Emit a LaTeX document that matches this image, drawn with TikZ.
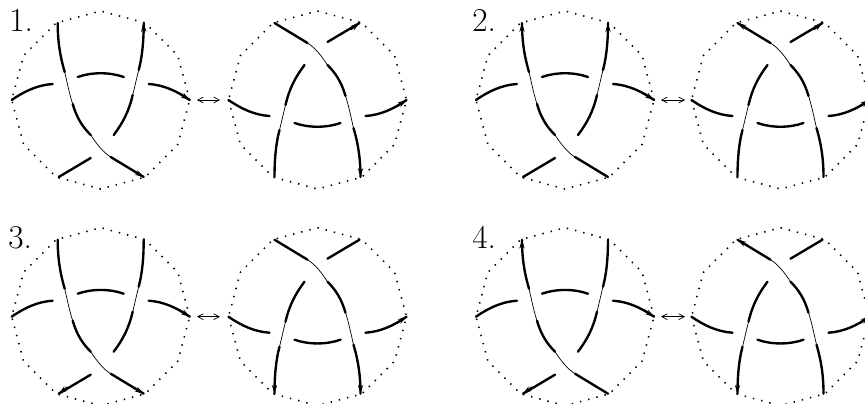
\documentclass[tikz,border=0pt]{standalone}
\usepackage{amsmath,amssymb}
\usepackage{xcolor}
\usetikzlibrary{arrows.meta}

\tikzset{
    thickstrand/.style={line width=1.35pt,line cap=round},
    thinstrand/.style={line width=0.4pt},
    rimdots/.style={line width=0.9pt,dash pattern=on 0.8pt off 4pt},
    swaparrow/.style={<->,>={Straight Barb[length=3.2pt,width=3.4pt]},line width=0.4pt},
    tipend/.style={-{Stealth[length=5pt,width=3pt]},line width=1.1pt},
    numlabel/.style={font=\fontsize{19}{19}\selectfont,anchor=base west,inner sep=0pt}
}

% one disc: centre #1, turned by #2, list of end arrows #3
\newcommand{\knotdisc}[3]{
  \begin{scope}[shift={#1},rotate=#2]
    % rand (12 hoeken)
    \draw[rimdots] (0:89) \foreach \a in {30,60,...,330}{ -- (\a:89)} -- cycle;
    % lange streng over de kruising
    \draw[thickstrand] (-43,77) .. controls (-43,60) and (-41,45) .. (-36,28);
    \draw[thinstrand] (-36,28) .. controls (-33,15) and (-31,5) .. (-28,-4);
    \draw[thickstrand] (-28,-4) .. controls (-24,-18) and (-18,-27) .. (-10,-35);
    \draw[thinstrand] (-10,-35) .. controls (-4,-44) and (2,-52) .. (10,-57);
    \draw[thickstrand] (10,-57) -- (43,-77);
    % tweede streng, onderbroken
    \draw[thickstrand] (43,77) .. controls (43,62) and (42,45) .. (38,30);
    \draw[thinstrand] (38,30) .. controls (36,22) and (34,13) .. (32,5);
    \draw[thickstrand] (32,5) .. controls (28,-12) and (22,-23) .. (13,-35);
    \draw[thickstrand] (-10,-58) -- (-42,-77);
    % bogen
    \draw[thickstrand] (-89,0) .. controls (-76,9) and (-63,15) .. (-48,16);
    \draw[thickstrand] (-23,23) .. controls (-9,28) and (9,28) .. (23,23);
    \draw[thickstrand] (48,16) .. controls (63,15) and (76,9) .. (89,0);
    \foreach \e in {#3}{\csname tip\e\endcsname}
  \end{scope}
}
\newcommand{\tipul}{\draw[tipend] (-43,67) -- (-43,77);}
\newcommand{\tipur}{\draw[tipend] (43,67) -- (43,77);}
\newcommand{\tipr}{\draw[tipend] (79,6.5) -- (89,0);}
\newcommand{\tipl}{\draw[tipend] (-79,6.5) -- (-89,0);}
\newcommand{\tipll}{\draw[tipend] (-33,-70.5) -- (-42,-77);}
\newcommand{\tiplr}{\draw[tipend] (33,-71) -- (43,-77);}

\begin{document}
\begin{tikzpicture}[x=0.02cm,y=0.02cm]
    \useasboundingbox (0,0) rectangle (865,403);
    \clip (0,0) rectangle (865,403);
    % rij 1
    \knotdisc{(100.7,303)}{0}{ur,r,lr}
    \knotdisc{(317.5,303)}{180}{ll,l,ul}
    \knotdisc{(565,303)}{0}{ul,ur,r}
    \knotdisc{(780.5,303)}{180}{lr,ll,l}
    % rij 2
    \knotdisc{(100.7,86.3)}{0}{ll,lr,r}
    \knotdisc{(317.5,86.3)}{180}{ur,ul,l}
    \knotdisc{(565,86.3)}{0}{ul,ll,r}
    \knotdisc{(780.5,86.3)}{180}{lr,ur,l}
    % pijlen tussen de schijven
    \coordinate (ar1a) at (197,303); \coordinate (ar1b) at (220,303);
    \coordinate (ar2a) at (661,303); \coordinate (ar2b) at (685,303);
    \coordinate (ar3a) at (197,86.3); \coordinate (ar3b) at (220,86.3);
    \coordinate (ar4a) at (661,86.3); \coordinate (ar4b) at (685,86.3);
    \foreach \n in {1,2,3,4}{
      \draw[swaparrow] (ar\n a) -- (ar\n b);
    }
    % nummers
    \node[numlabel] (lab1) at (9,371) {1.};
    \node[numlabel] (lab2) at (472,371) {2.};
    \node[numlabel] (lab3) at (8,155) {3.};
    \node[numlabel] (lab4) at (472,155) {4.};
\end{tikzpicture}
\end{document}
